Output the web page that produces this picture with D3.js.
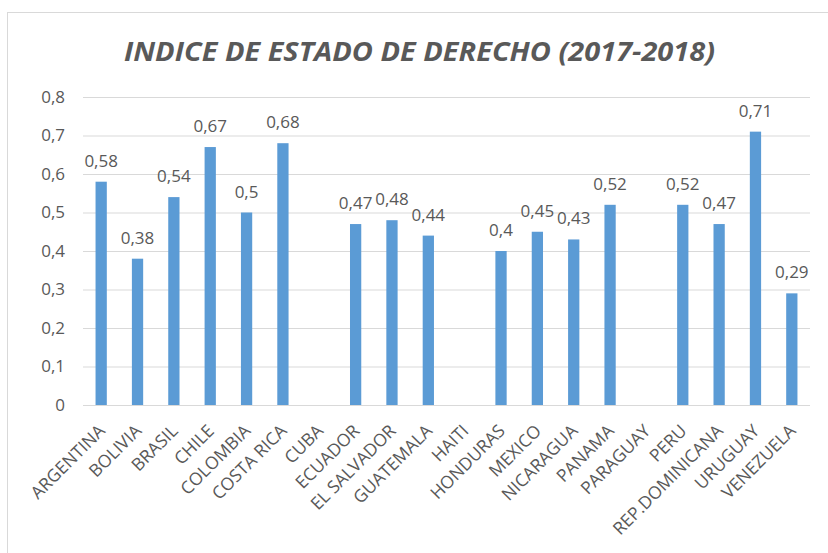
<!DOCTYPE html>
<html>
<head>
<meta charset="utf-8">
<script src="https://cdn.jsdelivr.net/npm/d3@7"></script>
<style>
  body { margin: 0; background: #fff; }
  text { font-family: "Open Sans", sans-serif; fill: #595959; }
</style>
</head>
<body>
<script>
// data (null = no bar)
const countries = ['ARGENTINA', 'BOLIVIA', 'BRASIL', 'CHILE', 'COLOMBIA', 'COSTA RICA', 'CUBA',
  'ECUADOR', 'EL SALVADOR', 'GUATEMALA', 'HAITI', 'HONDURAS', 'MEXICO', 'NICARAGUA', 'PANAMA',
  'PARAGUAY', 'PERU', 'REP.DOMINICANA', 'URUGUAY', 'VENEZUELA'];
const values = [0.58, 0.38, 0.54, 0.67, 0.5, 0.68, null,
  0.47, 0.48, 0.44, null, 0.4, 0.45, 0.43, 0.52,
  null, 0.52, 0.47, 0.71, 0.29];
const yTicks = [0, 0.1, 0.2, 0.3, 0.4, 0.5, 0.6, 0.7, 0.8];
const title = 'INDICE DE ESTADO DE DERECHO (2017-2018)';

const width = 828;
const height = 553;
const margin = { top: 97, right: 18, bottom: 148, left: 83 };

const data = countries.map((c, i) => ({ c, v: values[i] }));
const fmt = v => String(v).replace('.', ',');

const svg = d3.select('body').append('svg')
  .attr('width', width)
  .attr('height', height);

// chart frame
svg.append('rect')
  .attr('x', 7.5).attr('y', 12.5)
  .attr('width', width).attr('height', height)
  .attr('fill', 'none')
  .attr('stroke', '#d9d9d9');

const x = d3.scaleBand()
  .domain(countries)
  .range([margin.left, width - margin.right])
  .paddingInner(0.69)
  .paddingOuter(0.345);

const y = d3.scaleLinear()
  .domain([0, 0.8])
  .range([height - margin.bottom, margin.top]);

// gridlines + tick labels
const yAxis = g => g
  .attr('transform', `translate(${margin.left},0)`)
  .call(d3.axisLeft(y).tickValues(yTicks).tickFormat(fmt)
    .tickSize(-(width - margin.left - margin.right)).tickPadding(18))
  .call(g => g.select('.domain').remove())
  .call(g => g.selectAll('.tick line').attr('stroke', '#d9d9d9'))
  .call(g => g.selectAll('.tick text')
    .attr('font-size', 17).attr('fill', '#595959')
    .attr('font-family', '"Open Sans", sans-serif'));

svg.append('g').call(yAxis);

// bars
svg.append('g')
  .selectAll('rect')
  .data(data.filter(d => d.v != null))
  .join('rect')
  .attr('x', d => x(d.c))
  .attr('width', x.bandwidth())
  .attr('y', d => y(d.v))
  .attr('height', d => y(0) - y(d.v))
  .attr('fill', '#5b9bd5');

// value labels
svg.append('g')
  .selectAll('text')
  .data(data.filter(d => d.v != null))
  .join('text')
  .attr('x', d => x(d.c) + x.bandwidth() / 2)
  .attr('y', d => y(d.v) - 15)
  .attr('text-anchor', 'middle')
  .attr('font-size', 17)
  .text(d => fmt(d.v));

// category labels, rotated
svg.append('g')
  .selectAll('text')
  .data(countries)
  .join('text')
  .attr('transform', d => `translate(${x(d) + x.bandwidth() / 2 + 5},${y(0) + 27}) rotate(-45)`)
  .attr('text-anchor', 'end')
  .attr('font-size', 17.5)
  .text(d => d);

// title
svg.append('text')
  .attr('x', 419.5)
  .attr('y', 61)
  .attr('text-anchor', 'middle')
  .attr('font-size', 26.5)
  .attr('font-weight', 'bold')
  .attr('font-style', 'italic')
  .attr('textLength', 591)
  .attr('lengthAdjust', 'spacingAndGlyphs')
  .text(title);
</script>
</body>
</html>
